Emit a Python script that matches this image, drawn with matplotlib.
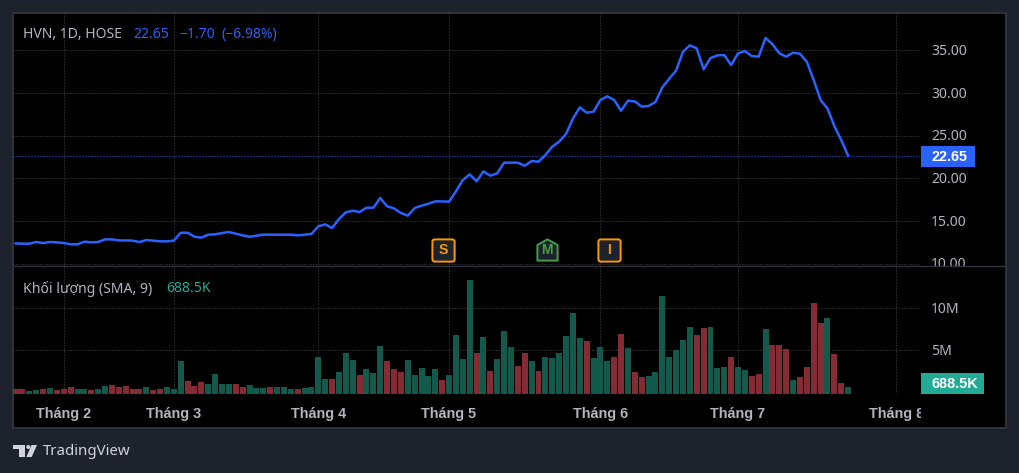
import matplotlib
matplotlib.use("Agg")
import matplotlib.pyplot as plt
import numpy as np
from matplotlib.patches import Rectangle, Polygon, Circle, BoxStyle
from matplotlib.path import Path
from matplotlib.transforms import Bbox, ScaledTranslation

W, H = 1019, 473

close = [12.38, 12.34, 12.34, 12.54, 12.42, 12.54, 12.50, 12.42, 12.27, 12.27, 12.58,
         12.50, 12.54, 12.85, 12.85, 12.73, 12.73, 12.70, 12.54, 12.77, 12.70, 12.62,
         12.62, 12.70, 13.63, 13.63, 13.16, 13.05, 13.40, 13.44, 13.59, 13.71, 13.52,
         13.32, 13.16, 13.28, 13.40, 13.40, 13.40, 13.40, 13.40, 13.32, 13.40, 13.48,
         14.38, 14.61, 14.18, 15.23, 16.02, 16.21, 16.05, 16.56, 16.56, 17.70, 16.72,
         16.48, 15.94, 15.63, 16.52, 16.80, 17.03, 17.30, 17.30, 17.27, 18.48, 19.80,
         20.47, 19.65, 20.82, 20.31, 20.59, 21.84, 21.84, 21.84, 21.48, 22.03, 21.95,
         22.73, 23.71, 24.30, 25.20, 26.99, 28.32, 27.70, 27.81, 29.18, 29.61, 29.18,
         27.93, 29.10, 29.02, 28.40, 28.48, 28.95, 30.66, 31.68, 32.62, 34.84, 35.59,
         35.23, 32.77, 34.10, 34.41, 34.45, 33.28, 34.65, 34.92, 34.34, 34.26, 36.45,
         35.74, 34.65, 34.26, 34.73, 34.61, 33.67, 31.52, 29.18, 28.20, 26.13, 24.49,
         22.65]

# bar heights in millions, measured from the bottom of the pane
volume = [0.60, 0.60, 0.36, 0.48, 0.60, 0.71, 0.48, 0.60, 0.83, 0.60, 0.60, 0.48,
          0.60, 0.95, 1.07, 0.83, 0.95, 0.60, 0.60, 0.83, 0.48, 0.60, 0.83, 0.60,
          3.93, 1.55, 0.95, 1.43, 1.19, 2.38, 1.19, 1.19, 1.19, 0.83, 1.07, 0.71,
          0.71, 0.83, 0.83, 0.83, 0.60, 0.60, 0.71, 0.83, 4.40, 1.79, 1.79, 2.62,
          4.88, 4.05, 2.26, 2.98, 2.50, 5.71, 3.93, 2.98, 2.62, 4.05, 2.26, 3.10,
          2.14, 2.98, 1.67, 2.26, 7.02, 4.17, 13.57, 4.88, 6.79, 2.74, 4.17, 7.50,
          5.60, 3.33, 4.88, 3.93, 2.74, 4.40, 4.29, 4.88, 6.90, 9.64, 6.67, 6.31,
          4.29, 5.60, 3.93, 4.40, 7.14, 5.48, 2.62, 2.02, 2.14, 2.62, 11.67, 4.40,
          5.24, 6.43, 7.98, 7.02, 7.86, 7.98, 3.10, 3.21, 4.40, 3.21, 2.86, 2.14,
          2.38, 7.74, 5.83, 5.83, 5.36, 1.67, 2.02, 3.21, 10.83, 8.45, 9.05, 4.76,
          1.31, 0.83]

# U = up day, D = down day
direction = list("DDUUDUDDDUUDUUDDDDDUDDUUUDDDUUUUDDUUUDUUUDUUUUDUUUDUUUDDDUUUUUDUUUUDUDUUUDD"
                 "UDUUUUUUDUUUDDUDDUUUUUUUDDUUUDUUDDUDDDUDDDDUDDU")

price_ticks = [10, 15, 20, 25, 30, 35]
price_labels = ["10.00", "15.00", "20.00", "25.00", "30.00", "35.00"]
vol_ticks = [5, 10]
vol_labels = ["5M", "10M"]
month_pos = [7, 23, 44, 63, 85, 105, 128]
month_labels = ["Tháng 2", "Tháng 3", "Tháng 4", "Tháng 5", "Tháng 6", "Tháng 7", "Tháng 8"]

event_pos = [62.1, 77.2, 86.2]
event_labels = ["S", "M", "I"]
event_y = 11.66

BG = "#1e222d"
BORDER = "#2f333e"
GRID = "#4a4a4a"
TEXT = "#b2b5be"
BLUE = "#2962ff"
TEAL = "#22ab94"
BAR_UP = "#135a4d"
BAR_DOWN = "#852b33"
ORANGE = "#ff9800"
EV_GREEN = "#43a047"
DOTS = (0, (1, 2))
VOL_BASE = -0.2
BOLD = "Liberation Sans"

plt.rcParams["font.family"] = ["Noto Sans", "DejaVu Sans"]
FS = 14 * 72 / 100

fig = plt.figure(figsize=(W / 100, H / 100), dpi=100, facecolor=BG)


def box(x0, y0, x1, y1):
    # pixel box, y measured from the top of the image
    return [x0 / W, 1 - y1 / H, (x1 - x0) / W, (y1 - y0) / H]


def fx(x):
    return x / W


def fy(y):
    return 1 - y / H


def nudge(labels, dy_px):
    # move tick labels up by a few pixels
    for t in labels:
        t.set_transform(t.get_transform() + ScaledTranslation(0, dy_px / 100, fig.dpi_scale_trans))


b = box(13, 13, 1006, 428)
fig.add_artist(Rectangle((b[0], b[1]), b[2], b[3], transform=fig.transFigure,
                         fc="black", ec=BORDER, lw=1.4, zorder=-5))

ax = fig.add_axes(box(13, 13, 920, 266))
vol = fig.add_axes(box(13, 266, 920, 394))
x = np.arange(len(close))

for a in (ax, vol):
    a.patch.set_alpha(0)
    a.set_xlim(-0.378, 131.45)
    for s in a.spines.values():
        s.set_visible(False)
    a.set_axisbelow(True)
    a.grid(True, color=GRID, lw=0.72, linestyle=DOTS)
    a.set_xticks(month_pos)
    a.yaxis.tick_right()
    a.tick_params(length=0, colors=TEXT, labelsize=FS)
    a.tick_params(axis="y", pad=8)

# price panel
ax.set_ylim(9.73, 39.38)
ax.set_yticks(price_ticks)
ax.set_yticklabels(price_labels)
ax.set_xticklabels([])
ax.axhline(close[-1], color=BLUE, lw=0.72, linestyle=DOTS, zorder=1.5)
ax.plot(x, close, color=BLUE, lw=1.8, solid_joinstyle="round", zorder=3)

nudge(ax.get_yticklabels(), 1)
for t in ax.get_yticklabels():
    t.set_clip_box(Bbox([[0, H - 266], [W, H]]))
    t.set_clip_on(True)

# event markers
square = BoxStyle.Round(pad=0, rounding_size=0.2)(-1, -1, 2, 2, 1)
house = Path([(-1, -1), (1, -1), (1, 0.55), (0, 1.1), (-1, 0.55), (-1, -1)], closed=True)
for pos, lab in zip(event_pos, event_labels):
    c = EV_GREEN if lab == "M" else ORANGE
    ax.plot([pos], [event_y], marker=house if lab == "M" else square, ms=16, mfc=BG, mec=c,
            mew=1.4, ls="none", clip_on=False, zorder=4)
    ax.text(pos, event_y, lab, color=c, ha="center", va="center", fontsize=FS,
            family=BOLD, fontweight="bold", zorder=5)

# volume panel
colors = [BAR_UP if d == "U" else BAR_DOWN for d in direction]
vol.bar(x, volume, bottom=VOL_BASE, width=0.87, color=colors, zorder=2)
vol.set_ylim(VOL_BASE, 128 / 8.4 + VOL_BASE)
vol.set_yticks(vol_ticks)
vol.set_yticklabels(vol_labels)
vol.set_xticklabels(month_labels, family=BOLD, fontweight="bold", fontsize=FS * 1.03)
vol.tick_params(axis="x", pad=9.5)
nudge(vol.get_yticklabels(), 1)
for t in vol.get_xticklabels():
    t.set_clip_box(Bbox([[0, 0], [921, H]]))
    t.set_clip_on(True)

# separator between panes
fig.add_artist(plt.Line2D([fx(13), fx(1006)], [fy(266), fy(266)], color=BORDER, lw=1))

# price and volume badges
for (x0, y0, x1, y1, col, lab) in [(921, 146, 975, 167, BLUE, "22.65"),
                                   (921, 373, 984, 394, TEAL, "688.5K")]:
    b = box(x0, y0, x1, y1)
    fig.add_artist(Rectangle((b[0], b[1]), b[2], b[3], transform=fig.transFigure, fc=col, ec="none"))
    fig.text(fx(931), fy((y0 + y1) / 2), lab, color="white", fontsize=FS * 1.03, va="center",
             family=BOLD, fontweight="bold")

# legends
fig.text(fx(23), fy(34.5), "HVN, 1D, HOSE", color=TEXT, fontsize=FS, va="center")
fig.text(fx(133), fy(34.5), "22.65", color=BLUE, fontsize=FS, va="center")
fig.text(fx(179), fy(34.5), "−1.70", color=BLUE, fontsize=FS, va="center")
fig.text(fx(221), fy(34.5), "(−6.98%)", color=BLUE, fontsize=FS, va="center")
fig.text(fx(23), fy(288.5), "Khối lượng (SMA, 9)", color=TEXT, fontsize=FS, va="center")
fig.text(fx(166), fy(288.5), "688.5K", color=TEAL, fontsize=FS, va="center")

# TradingView logo
LOGO = "#d1d4dc"
fig.add_artist(Polygon([(fx(13.3), fy(445)), (fx(25), fy(445)), (fx(25), fy(457)), (fx(19.3), fy(457)),
                        (fx(19.3), fy(449)), (fx(13.3), fy(449))], transform=fig.transFigure, fc=LOGO, ec="none"))
fig.add_artist(Polygon([(fx(31.5), fy(445)), (fx(37), fy(445)), (fx(31.7), fy(457)), (fx(26.3), fy(457))],
                       transform=fig.transFigure, fc=LOGO, ec="none"))
fig.add_artist(Circle((28.3, H - 447), 2.0, transform=None, fc=LOGO, ec="none"))
fig.text(fx(43), fy(451.5), "TradingView", color=LOGO, fontsize=15 * 72 / 100, va="center")

fig.savefig("out.png", dpi=100, facecolor=BG)
